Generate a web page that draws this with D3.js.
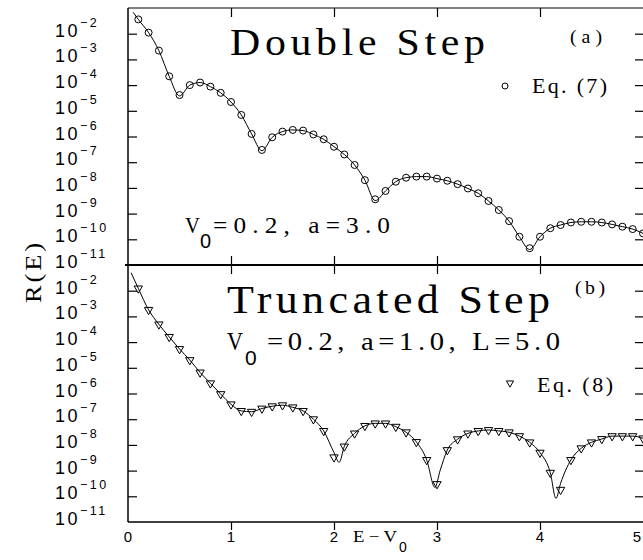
<!DOCTYPE html>
<html>
<head>
<meta charset="utf-8">
<script src="https://cdn.jsdelivr.net/npm/d3@7"></script>
<style>
  body { margin: 0; background: #fff; }
  text { fill: #000; }
</style>
</head>
<body>
<div id="chart"></div>
<script>
// E - V0 grid of the symbols
const energy = [0.1, 0.2, 0.3, 0.4, 0.5, 0.6, 0.7, 0.8, 0.9, 1.0,
  1.1, 1.2, 1.3, 1.4, 1.5, 1.6, 1.7, 1.8, 1.9, 2.0,
  2.1, 2.2, 2.3, 2.4, 2.5, 2.6, 2.7, 2.8, 2.9, 3.0,
  3.1, 3.2, 3.3, 3.4, 3.5, 3.6, 3.7, 3.8, 3.9, 4.0,
  4.1, 4.2, 4.3, 4.4, 4.5, 4.6, 4.7, 4.8, 4.9, 5.0];

// (a) double step, Eq. (7) circles
const doubleStepR = [3.6e-2, 1.1e-2, 2.2e-3, 2.2e-4, 4.1e-5, 1.0e-4, 1.26e-4, 8.7e-5, 5.0e-5, 2.2e-5,
  6.9e-6, 1.26e-6, 3.0e-7, 9.3e-7, 1.55e-6, 1.8e-6, 1.7e-6, 1.2e-6, 7.8e-7, 4.0e-7,
  2.0e-7, 7.8e-8, 2.0e-8, 3.6e-9, 7.6e-9, 1.74e-8, 2.5e-8, 2.75e-8, 2.75e-8, 2.3e-8,
  1.9e-8, 1.4e-8, 9.5e-9, 6.2e-9, 3.1e-9, 1.38e-9, 5.1e-10, 1.26e-10, 4.5e-11, 1.26e-10,
  2.7e-10, 3.6e-10, 4.5e-10, 4.8e-10, 4.8e-10, 4.5e-10, 3.8e-10, 3.1e-10, 2.5e-10, 1.7e-10];

// (b) truncated step, Eq. (8) triangles
const truncStepR = [1.23e-2, 1.8e-3, 4.9e-4, 1.6e-4, 5.4e-5, 2.0e-5, 6.6e-6, 2.5e-6, 9.5e-7, 3.8e-7,
  2.1e-7, 1.95e-7, 2.6e-7, 3.2e-7, 3.5e-7, 2.9e-7, 2.1e-7, 1.0e-7, 3.5e-8, 3.3e-9,
  8.7e-9, 2.8e-8, 5.5e-8, 6.9e-8, 6.9e-8, 5.1e-8, 3.1e-8, 1.3e-8, 2.6e-9, 3.0e-10,
  6.3e-9, 1.66e-8, 2.8e-8, 3.5e-8, 3.8e-8, 3.5e-8, 3.1e-8, 2.2e-8, 1.26e-8, 5.0e-9,
  8.3e-10, 1.8e-10, 2.6e-9, 7.4e-9, 1.26e-8, 1.7e-8, 2.2e-8, 2.2e-8, 2.2e-8, 1.8e-8];

// solid curves (exact result)
const doubleLineE = [0.05, 0.1, 0.2, 0.3, 0.4, 0.5, 0.6, 0.7, 0.8, 0.9, 1.0,
  1.1, 1.2, 1.3, 1.4, 1.5, 1.6, 1.7, 1.8, 1.9, 2.0,
  2.1, 2.2, 2.3, 2.4, 2.5, 2.6, 2.7, 2.8, 2.9, 3.0,
  3.1, 3.2, 3.3, 3.4, 3.5, 3.6, 3.7, 3.8, 3.9, 4.0,
  4.1, 4.2, 4.3, 4.4, 4.5, 4.6, 4.7, 4.8, 4.9, 5.0];
const doubleLineR = [6.8e-2, 3.6e-2, 1.1e-2, 2.2e-3, 2.2e-4, 3.8e-5, 1.0e-4, 1.26e-4, 8.7e-5, 5.0e-5, 2.2e-5,
  6.9e-6, 1.26e-6, 2.8e-7, 9.3e-7, 1.55e-6, 1.8e-6, 1.7e-6, 1.2e-6, 7.8e-7, 4.0e-7,
  2.0e-7, 7.8e-8, 2.0e-8, 3.2e-9, 7.6e-9, 1.74e-8, 2.5e-8, 2.75e-8, 2.75e-8, 2.3e-8,
  1.9e-8, 1.4e-8, 9.5e-9, 6.2e-9, 3.1e-9, 1.38e-9, 5.1e-10, 1.26e-10, 4.0e-11, 1.26e-10,
  2.7e-10, 3.6e-10, 4.5e-10, 4.8e-10, 4.8e-10, 4.5e-10, 3.8e-10, 3.1e-10, 2.5e-10, 1.7e-10];

const truncLineE = [0.03, 0.1, 0.2, 0.3, 0.4, 0.5, 0.6, 0.7, 0.8, 0.9, 1.0,
  1.1, 1.2, 1.3, 1.4, 1.5, 1.6, 1.7, 1.8, 1.9, 2.0, 2.05,
  2.1, 2.2, 2.3, 2.4, 2.5, 2.6, 2.7, 2.8, 2.9, 2.98, 3.03,
  3.1, 3.2, 3.3, 3.4, 3.5, 3.6, 3.7, 3.8, 3.9, 4.0,
  4.1, 4.155, 4.2, 4.3, 4.4, 4.5, 4.6, 4.7, 4.8, 4.9, 5.0];
const truncLineR = [5.0e-2, 1.23e-2, 1.8e-3, 4.9e-4, 1.6e-4, 5.4e-5, 2.0e-5, 6.6e-6, 2.5e-6, 9.5e-7, 3.8e-7,
  2.1e-7, 1.95e-7, 2.6e-7, 3.2e-7, 3.5e-7, 2.9e-7, 2.1e-7, 1.0e-7, 3.5e-8, 5.0e-9, 2.1e-9,
  8.7e-9, 2.8e-8, 5.5e-8, 6.9e-8, 6.9e-8, 5.1e-8, 3.1e-8, 1.3e-8, 2.6e-9, 2.2e-10, 1.0e-9,
  6.3e-9, 1.66e-8, 2.8e-8, 3.5e-8, 3.8e-8, 3.5e-8, 3.1e-8, 2.2e-8, 1.26e-8, 5.0e-9,
  8.3e-10, 8.3e-11, 3.2e-10, 2.6e-9, 7.4e-9, 1.26e-8, 1.7e-8, 2.2e-8, 2.2e-8, 2.2e-8, 1.8e-8];

const xTicks = [0, 1, 2, 3, 4, 5];
const yTicks = [1e-2, 1e-3, 1e-4, 1e-5, 1e-6, 1e-7, 1e-8, 1e-9, 1e-10, 1e-11];
const yExponents = ["\u22122", "\u22123", "\u22124", "\u22125", "\u22126", "\u22127", "\u22128", "\u22129", "\u221210", "\u221211"];

const width = 643;
const height = 560;
const pLeft = 128, pRight = 643, pTop = 8, pMid = 265, pBottom = 522;
const serif = "'Liberation Serif', 'Times New Roman', serif";
const sans = "'Liberation Sans', Arial, sans-serif";

const svg = d3.select("#chart").append("svg")
  .attr("width", width)
  .attr("height", height)
  .style("display", "block");

const x = d3.scaleLinear().domain([0, 5]).range([pLeft, pRight]);
const yTop = d3.scaleLog().domain([1e-11, 1e-1]).range([pMid, pTop]);
const yBot = d3.scaleLog().domain([1e-11, 1e-1]).range([pBottom, pMid]);

const inner = [1, 2, 3, 4];

// wide, thin serif lettering: stretch a little and spread the rest
function wideText(str, x0, y0, size, target, opts = {}) {
  const fam = opts.family || serif;
  const rot = opts.rotate ? ` rotate(${opts.rotate})` : "";
  const t = svg.append("text")
    .attr("font-family", fam)
    .attr("font-size", size)
    .attr("text-anchor", opts.anchor || "start")
    .text(str);
  const natural = t.node().getComputedTextLength();
  const sx = Math.min(opts.maxStretch || 1.1, target / natural);
  t.attr("transform", `translate(${x0},${y0})${rot} scale(${sx},1)`);
  if (natural * sx < target - 1) {
    t.attr("textLength", target / sx).attr("lengthAdjust", "spacing");
  }
  return t;
}

function drawPanel(y) {
  // left ticks pointing in
  svg.append("g")
    .attr("transform", `translate(${pLeft},0)`)
    .call(d3.axisLeft(y).tickValues(yTicks.slice(0, 9)).tickSize(-9).tickSizeOuter(0).tickFormat(""))
    .call(g => g.select(".domain").remove());
  // right ticks pointing in
  svg.append("g")
    .attr("transform", `translate(${pRight},0)`)
    .call(d3.axisRight(y).tickValues(yTicks.slice(0, 9)).tickSize(-8).tickSizeOuter(0).tickFormat(""))
    .call(g => g.select(".domain").remove());

  // tick labels 10^-n
  const lab = svg.append("g").selectAll("text")
    .data(yTicks)
    .join("text")
    .attr("x", 55)
    .attr("y", d => y(d) + 3)
    .attr("font-family", sans)
    .attr("font-size", 18)
    .attr("letter-spacing", 2.5);
  lab.append("tspan").text("10");
  lab.append("tspan")
    .attr("x", 80)
    .attr("dy", -10)
    .attr("font-size", 12.5)
    .attr("letter-spacing", 2.5)
    .text((d, i) => yExponents[i]);
}

drawPanel(yTop);
drawPanel(yBot);

// frame
svg.append("line").attr("x1", pLeft).attr("x2", pLeft).attr("y1", pTop).attr("y2", pBottom)
  .attr("stroke", "#000").attr("stroke-width", 1.5);
svg.append("line").attr("x1", pLeft).attr("x2", pRight).attr("y1", pTop).attr("y2", pTop)
  .attr("stroke", "#000").attr("stroke-width", 1.2);
svg.append("line").attr("x1", 125).attr("x2", pRight).attr("y1", pMid).attr("y2", pMid)
  .attr("stroke", "#000").attr("stroke-width", 2);
svg.append("line").attr("x1", pLeft).attr("x2", pRight).attr("y1", pBottom).attr("y2", pBottom)
  .attr("stroke", "#000").attr("stroke-width", 1.5);

// x ticks: top border, divider (both sides), bottom
svg.append("g").attr("transform", `translate(0,${pTop})`)
  .call(d3.axisTop(x).tickValues(inner).tickSize(-9).tickSizeOuter(0).tickFormat(""))
  .call(g => g.select(".domain").remove());
svg.append("g").attr("transform", `translate(0,${pMid})`)
  .call(d3.axisTop(x).tickValues(inner).tickSize(9).tickSizeOuter(0).tickFormat(""))
  .call(g => g.select(".domain").remove());
svg.append("g").attr("transform", `translate(0,${pMid})`)
  .call(d3.axisBottom(x).tickValues(inner).tickSize(9).tickSizeOuter(0).tickFormat(""))
  .call(g => g.select(".domain").remove());
svg.append("g").attr("transform", `translate(0,${pBottom})`)
  .call(d3.axisTop(x).tickValues(inner).tickSize(-8).tickSizeOuter(0).tickFormat(""))
  .call(g => g.select(".domain").remove());

svg.selectAll(".tick line").attr("stroke", "#000").attr("stroke-width", 1.2);

// x tick labels (last one sits on the clipped right edge)
svg.append("g").selectAll("text")
  .data(xTicks)
  .join("text")
  .attr("x", d => Math.min(x(d), 637))
  .attr("y", 542)
  .attr("text-anchor", "middle")
  .attr("font-family", sans)
  .attr("font-size", 15)
  .text(d => d);

// x label E - V0
wideText("E\u2212V", 353, 542, 17, 44);
svg.append("text").attr("x", 399).attr("y", 552)
  .attr("font-family", sans).attr("font-size", 14).text("0");

// y label
wideText("R(E)", 41, 273, 24, 60, { rotate: -90, anchor: "middle" });

// curves
svg.append("clipPath").attr("id", "clip-top")
  .append("rect").attr("x", pLeft).attr("y", pTop).attr("width", pRight - pLeft).attr("height", pMid - pTop);
svg.append("clipPath").attr("id", "clip-bot")
  .append("rect").attr("x", pLeft).attr("y", pMid).attr("width", pRight - pLeft).attr("height", pBottom - pMid);

const lineTop = d3.line()
  .x((d, i) => x(doubleLineE[i]))
  .y(d => yTop(d))
  .curve(d3.curveMonotoneX);
const lineBot = d3.line()
  .x((d, i) => x(truncLineE[i]))
  .y(d => yBot(d))
  .curve(d3.curveMonotoneX);

svg.append("path")
  .attr("d", lineTop(doubleLineR))
  .attr("fill", "none")
  .attr("stroke", "#000")
  .attr("stroke-width", 1)
  .attr("clip-path", "url(#clip-top)");
svg.append("path")
  .attr("d", lineBot(truncLineR))
  .attr("fill", "none")
  .attr("stroke", "#000")
  .attr("stroke-width", 1)
  .attr("clip-path", "url(#clip-bot)");

// markers
svg.append("g").selectAll("circle")
  .data(doubleStepR)
  .join("circle")
  .attr("cx", (d, i) => x(energy[i]))
  .attr("cy", d => yTop(d))
  .attr("r", 3.5)
  .attr("fill", "none")
  .attr("stroke", "#000")
  .attr("stroke-width", 1);

const tri = d3.symbol().type(d3.symbolTriangle).size(30);
svg.append("g").selectAll("path")
  .data(truncStepR)
  .join("path")
  .attr("d", tri)
  .attr("transform", (d, i) => `translate(${x(energy[i])},${yBot(d)}) rotate(180)`)
  .attr("fill", "none")
  .attr("stroke", "#000")
  .attr("stroke-width", 1);

// panel (a) texts
wideText("Double Step", 230, 55, 38, 255);
wideText("(a)", 570, 43, 18, 32);
svg.append("circle")
  .attr("cx", 505).attr("cy", 86).attr("r", 3)
  .attr("fill", "none").attr("stroke", "#000");
wideText("Eq. (7)", 532, 93, 20, 75);
wideText("V", 185, 233, 23, 15);
svg.append("text").attr("x", 200).attr("y", 248)
  .attr("font-family", sans).attr("font-size", 20).text("0");
wideText("=0.2, a=3.0", 213, 233, 23, 177);

// panel (b) texts
wideText("Truncated Step", 227, 313, 40, 323);
wideText("(b)", 575, 294, 18, 30);
svg.append("path")
  .attr("d", d3.symbol().type(d3.symbolTriangle).size(22))
  .attr("transform", "translate(510,383) rotate(180)")
  .attr("fill", "none").attr("stroke", "#000");
wideText("Eq. (8)", 537, 392, 20, 76);
wideText("V", 227, 350, 26, 16);
svg.append("text").attr("x", 245).attr("y", 365)
  .attr("font-family", sans).attr("font-size", 21).text("0");
wideText("=0.2, a=1.0, L=5.0", 267, 350, 26, 293);
</script>
</body>
</html>
